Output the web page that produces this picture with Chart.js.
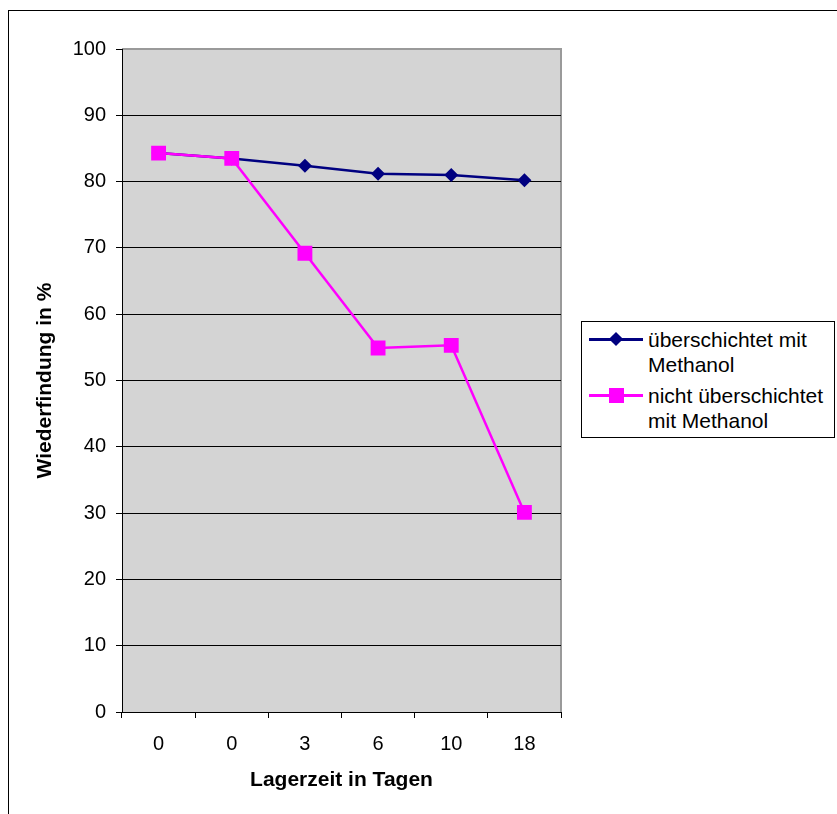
<!DOCTYPE html>
<html>
<head>
<meta charset="utf-8">
<script src="https://cdn.jsdelivr.net/npm/chart.js@4.4.0/dist/chart.umd.min.js"></script>
<style>
body{margin:0;background:#fff;overflow:hidden}
#wrap{position:relative;width:837px;height:814px;overflow:hidden}
#frame{position:absolute;left:8px;top:10px;width:900px;height:900px;border-left:1px solid #000;border-top:1px solid #000}
#chart{position:absolute;left:0;top:0}
#legend{position:absolute;left:581px;top:321px;width:252px;height:115px;border:1px solid #000;background:#fff;
  font-family:"Liberation Sans",Arial,sans-serif;font-size:21px;line-height:25px;color:#000}
.entry{position:absolute;left:0;width:100%}
.key{position:absolute;left:7px;width:54px;height:25px}
.key .ln{position:absolute;left:0;top:11px;width:54px;height:2.5px}
.key .mk{position:absolute}
.txt{position:absolute;left:66px;white-space:nowrap}
</style>
</head>
<body>
<div id="wrap">
  <div id="frame"></div>
  <canvas id="chart" width="837" height="814"></canvas>
  <div id="legend"></div>
</div>
<script>
// data
const categories = ['0', '0', '3', '6', '10', '18'];
const coveredValues = [84.3, 83.5, 82.4, 81.2, 81.0, 80.2];
const uncoveredValues = [84.3, 83.5, 69.2, 54.9, 55.3, 30.1];
const seriesLabels = [['überschichtet mit', 'Methanol'], ['nicht überschichtet', 'mit Methanol']];
const yMin = 0, yMax = 100, yStep = 10;

const FONT = '"Liberation Sans", Arial, sans-serif';

// gray plot area with a gray top / right border
const plotBg = {
    id: 'plotBg',
    beforeDraw(chart) {
        const a = chart.chartArea, ctx = chart.ctx;
        ctx.save();
        ctx.fillStyle = '#d4d4d4';
        ctx.fillRect(a.left, a.top, a.right - a.left, a.bottom - a.top);
        ctx.strokeStyle = '#9a9a9a';
        ctx.lineWidth = 2;
        ctx.beginPath();
        ctx.moveTo(a.left, a.top);
        ctx.lineTo(a.right, a.top);
        ctx.lineTo(a.right, a.bottom);
        ctx.stroke();
        ctx.restore();
    }
};

const config = {
    type: 'line',
    data: {
        labels: categories,
        datasets: [{
            label: seriesLabels[0].join(' '),
            data: coveredValues,
            borderColor: '#000080',
            backgroundColor: '#000080',
            borderWidth: 2.5,
            pointStyle: 'rectRot',
            pointRadius: 7,
            pointHoverRadius: 7,
            pointBorderWidth: 0,
            order: 1
        }, {
            label: seriesLabels[1].join(' '),
            data: uncoveredValues,
            borderColor: '#ff00ff',
            backgroundColor: '#ff00ff',
            borderWidth: 2.5,
            pointStyle: 'rect',
            pointRadius: 10.5,
            pointHoverRadius: 10.5,
            pointBorderWidth: 0,
            order: 0
        }]
    },
    options: {
        responsive: false,
        animation: false,
        layout: {padding: {left: 29, top: 49, right: 276, bottom: 17}},
        plugins: {legend: {display: false}, tooltip: {enabled: false}},
        scales: {
            x: {
                offset: true,
                afterFit(s) { s.height = 85; },
                grid: {offset: true, drawOnChartArea: false, drawTicks: true, tickLength: 6, color: '#000'},
                border: {color: '#000', width: 1},
                ticks: {color: '#000', font: {family: FONT, size: 20}, padding: 14, maxRotation: 0},
                title: {display: true, text: 'Lagerzeit in Tagen', color: '#000',
                    font: {family: FONT, size: 21, weight: 'bold'}, padding: {top: 4, bottom: 4}}
            },
            y: {
                min: yMin,
                max: yMax,
                afterFit(s) { s.width = 93; },
                grid: {
                    color: ctx => ctx.tick && ctx.tick.value === yMax ? 'rgba(0,0,0,0)' : '#000',
                    tickColor: '#000',
                    tickLength: 6,
                    lineWidth: 1
                },
                border: {color: '#000', width: 1},
                ticks: {stepSize: yStep, color: '#000', font: {family: FONT, size: 20}, padding: 10},
                title: {display: true, text: 'Wiederfindung in %', color: '#000',
                    font: {family: FONT, size: 21, weight: 'bold'}, padding: {top: 4, bottom: 4}}
            }
        }
    },
    plugins: [plotBg]
};

const myChart = new Chart(document.getElementById('chart'), config);

// legend box
const legend = document.getElementById('legend');
myChart.data.datasets.forEach(function (ds, i) {
    const entry = document.createElement('div');
    entry.className = 'entry';
    entry.style.top = (5 + i * 56) + 'px';
    const key = document.createElement('div');
    key.className = 'key';
    const ln = document.createElement('div');
    ln.className = 'ln';
    ln.style.background = ds.borderColor;
    const mk = document.createElement('div');
    mk.className = 'mk';
    mk.style.background = ds.backgroundColor;
    if (ds.pointStyle === 'rectRot') {
        mk.style.width = '10px'; mk.style.height = '10px';
        mk.style.left = '22px'; mk.style.top = '7px';
        mk.style.transform = 'rotate(45deg)';
    } else {
        mk.style.width = '15px'; mk.style.height = '15px';
        mk.style.left = '19.5px'; mk.style.top = '5px';
    }
    key.appendChild(ln);
    key.appendChild(mk);
    const txt = document.createElement('div');
    txt.className = 'txt';
    txt.innerHTML = seriesLabels[i].join('<br>');
    entry.appendChild(key);
    entry.appendChild(txt);
    legend.appendChild(entry);
});
</script>
</body>
</html>
